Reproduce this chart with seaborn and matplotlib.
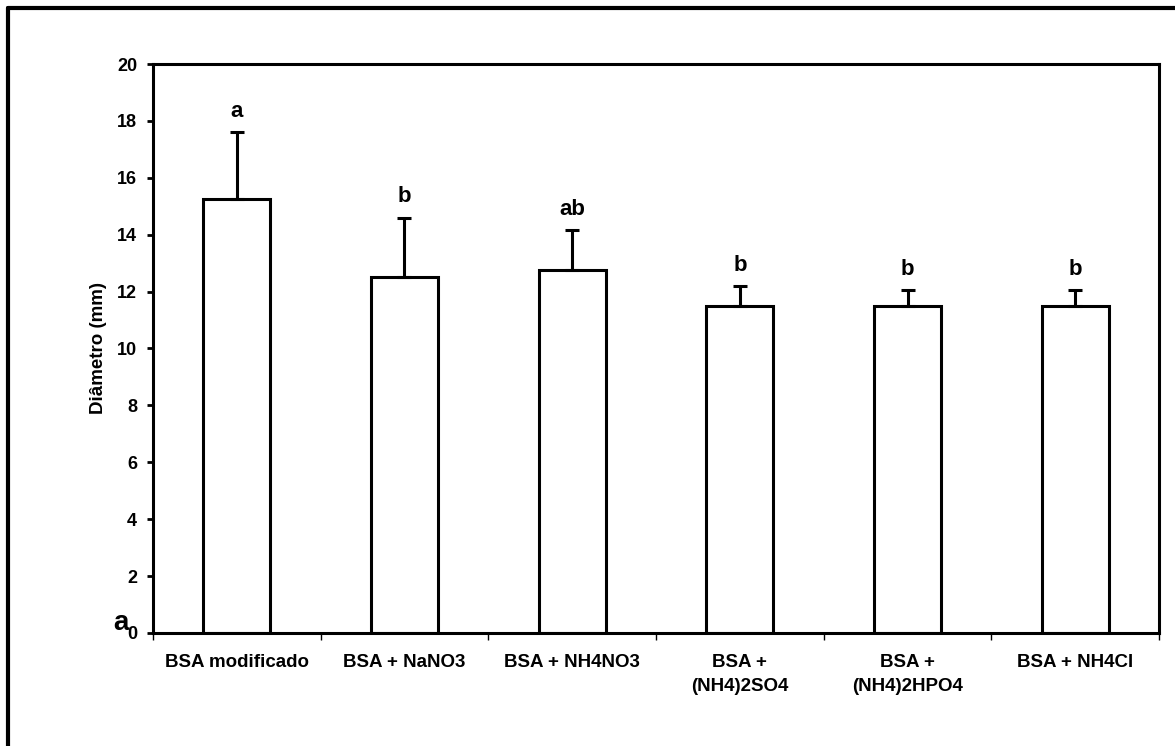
import matplotlib
matplotlib.use("Agg")
import matplotlib.pyplot as plt
from matplotlib.lines import Line2D
import seaborn as sns
import pandas as pd
import numpy as np

categories = ["BSA modificado", "BSA + NaNO3", "BSA + NH4NO3",
              "BSA +\n(NH4)2SO4", "BSA +\n(NH4)2HPO4", "BSA + NH4Cl"]
diameter = [15.25, 12.5, 12.75, 11.5, 11.5, 11.5]
error_up = [2.35, 2.1, 1.4, 0.7, 0.55, 0.55]
letters = ["a", "b", "ab", "b", "b", "b"]
y_ticks = [0, 2, 4, 6, 8, 10, 12, 14, 16, 18, 20]

sns.set_theme(style="white")
plt.rcParams["font.family"] = ["Liberation Sans", "DejaVu Sans"]
plt.rcParams["font.weight"] = "bold"
for key in ["text.color", "axes.labelcolor", "xtick.color", "ytick.color"]:
    plt.rcParams[key] = "black"

df = pd.DataFrame({"Tratamento": categories, "Diametro": diameter})

fig = plt.figure(figsize=(11.75, 7.46), dpi=100)
ax = fig.add_axes([0.1302, 0.1515, 0.8562, 0.7627])

sns.barplot(data=df, x="Tratamento", y="Diametro", ax=ax, width=0.4,
            color="white", edgecolor="black", linewidth=2.2,
            errorbar=None, saturation=1)

xpos = np.arange(len(categories))
ax.errorbar(xpos, diameter, yerr=[np.zeros(len(error_up)), error_up],
            fmt="none", ecolor="black", elinewidth=2.2, capsize=5,
            capthick=2.2, zorder=1)

for x, m, e, lab in zip(xpos, diameter, error_up, letters):
    ax.annotate(lab, xy=(x, m + e), xytext=(0, 11), textcoords="offset points",
                ha="center", va="baseline", fontsize=16, fontweight="bold")

ax.set_xlim(-0.5, len(categories) - 0.5)
ax.set_ylim(0, 20)
ax.set_yticks(y_ticks)
ax.set_yticklabels([str(t) for t in y_ticks], fontsize=13, fontweight="bold")

# category boundaries carry the tick marks, centers carry the labels
ax.set_xticks(np.arange(-0.5, len(categories)), minor=False)
ax.set_xticklabels([""] * (len(categories) + 1))
ax.set_xticks(xpos, minor=True)
ax.set_xticklabels(categories, minor=True, fontsize=13.5, fontweight="bold",
                   linespacing=1.55)
ax.tick_params(axis="x", which="minor", length=0, pad=15)
ax.tick_params(axis="x", which="major", length=5, width=1, direction="out",
               color="black")
ax.tick_params(axis="y", length=4.5, width=2, direction="out", color="black",
               pad=7)
ax.tick_params(axis="both", bottom=True, left=True)

for s in ax.spines.values():
    s.set_visible(True)
    s.set_linewidth(2.2)
    s.set_color("black")

ax.set_xlabel("")
ax.set_ylabel("Diâmetro (mm)", fontsize=13.5, fontweight="bold", labelpad=7)

fig.text(113 / 1175, 1 - 630 / 746, "a", fontsize=20, fontweight="bold",
         ha="left", va="baseline")

# outer frame: left and top edges
fig.add_artist(Line2D([8 / 1175, 8 / 1175], [0, 1 - 8 / 746],
                      transform=fig.transFigure, color="black", lw=3))
fig.add_artist(Line2D([8 / 1175, 1], [1 - 8 / 746, 1 - 8 / 746],
                      transform=fig.transFigure, color="black", lw=3))

fig.savefig("out.png", dpi=100, facecolor="white")
